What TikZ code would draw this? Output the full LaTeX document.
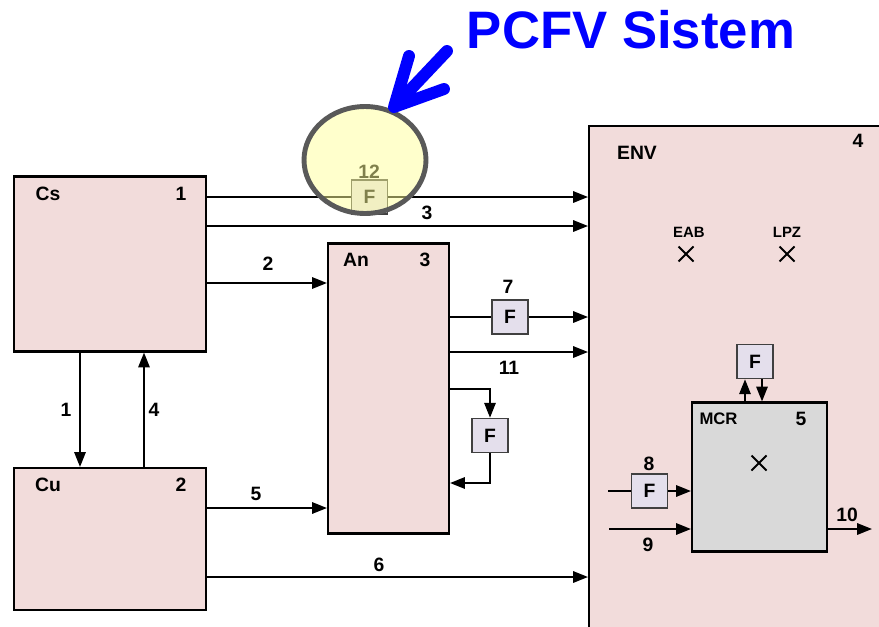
\documentclass[tikz,border=0pt]{standalone}
\usepackage{fontspec}
\setmainfont{Liberation Sans}
\usetikzlibrary{arrows.meta,positioning,shapes.geometric}
\definecolor{boxpink}{HTML}{F2DCDB}
\definecolor{mcrgray}{HTML}{D9D9D9}
\definecolor{flilac}{HTML}{E4DFEC}
\definecolor{lensyellow}{HTML}{FFFF99}
\definecolor{pcfvblue}{HTML}{0000FF}

\begin{document}
\begin{tikzpicture}[x=0.02cm,y=-0.02cm,
            block/.style={draw,line width=1.2pt,fill=boxpink,inner sep=0pt},
            fbox/.style={draw=black!75,line width=0.9pt,fill=flilac,minimum width=0.72cm,
                minimum height=0.68cm,inner sep=0pt,font=\bfseries\fontsize{11}{12}\selectfont},
            arc/.style={line width=1.1pt,-{Triangle[length=8.5pt,width=6.5pt]}},
            wire/.style={line width=1.1pt},
            lbl/.style={font=\bfseries\fontsize{11}{13}\selectfont},
            small/.style={font=\bfseries\fontsize{8.5}{10}\selectfont},
            lens/.style={ellipse,draw=black!65,line width=2.8pt,fill=lensyellow,fill opacity=0.5,
                minimum width=2.44cm,minimum height=2.14cm}
        ]
            \useasboundingbox (0,0) rectangle (879,626);

            % Blocks
            \node[block,minimum width=3.84cm,minimum height=3.5cm] (Cs) at (110,264) {};
            \node[block,minimum width=3.84cm,minimum height=2.84cm] (Cu) at (110,539) {};
            \node[block,minimum width=2.42cm,minimum height=5.8cm] (An) at (388.5,388.5) {};
            \node[block,minimum width=6.4cm,minimum height=10.6cm,anchor=north west] (ENV) at (588,125) {};
            \node[block,fill=mcrgray,minimum width=2.7cm,minimum height=2.98cm] (MCR) at (759.5,477) {};

            % Block labels
            \node[lbl] (CsName) at (48,194) {Cs};
            \node[lbl] (CsNum) at (181,194) {1};
            \node[lbl] (CuName) at (48,485) {Cu};
            \node[lbl] (CuNum) at (181,485) {2};
            \node[lbl] (AnName) at (356,260) {An};
            \node[lbl] (AnNum) at (425,260) {3};
            \node[lbl] (ENVName) at (637,153) {ENV};
            \node[lbl] (ENVNum) at (858,141) {4};
            \node[small] (EAB) at (689,232) {EAB};
            \node[small] (LPZ) at (787,232) {LPZ};
            \node[small,font=\bfseries\fontsize{9.5}{11}\selectfont] (MCRName) at (718.5,419) {MCR};
            \node[lbl] (MCRNum) at (801,419) {5};

            % Crosses
            \foreach \cx/\cy in {686/254,787/254,759/463} {
                \draw[line width=1.1pt] (\cx-7.5,\cy-7.5) -- (\cx+7.5,\cy+7.5) (\cx-7.5,\cy+7.5) -- (\cx+7.5,\cy-7.5);
            }

            % Filters
            \node[fbox] (F12) at (369.5,197) {F};
            \node[fbox] (F7) at (510,317) {F};
            \node[fbox] (Floop) at (490,435.5) {F};
            \node[fbox] (Fmcr) at (755,361.5) {F};
            \node[fbox] (F8) at (649.5,491) {F};

            % Levels of the connectors
            \coordinate (y3) at (0,226);
            \coordinate (y2) at (0,283);
            \coordinate (y5) at (0,508);
            \coordinate (y6) at (0,577);
            \coordinate (y11) at (0,352);
            \coordinate (yloop) at (0,389);
            \coordinate (yret) at (0,483);
            \coordinate (x1) at (80,0);
            \coordinate (x4) at (144,0);
            \coordinate (xup) at (745,0);
            \coordinate (xdn) at (762,0);
            \coordinate (in8) at (608,491);
            \coordinate (in9) at (609,529);
            \coordinate (out10) at (872,529);

            % Connectors
            \draw[wire] (Cs.east |- F12) -- (F12);
            \draw[arc] (F12) -- (F12 -| ENV.west);
            \draw[arc] (Cs.east |- y3) -- (ENV.west |- y3);
            \draw[arc] (Cs.east |- y2) -- (An.west |- y2);
            \draw[arc] (Cs.south -| x1) -- (Cu.north -| x1);
            \draw[arc] (Cu.north -| x4) -- (Cs.south -| x4);
            \draw[arc] (Cu.east |- y5) -- (An.west |- y5);
            \draw[arc] (Cu.east |- y6) -- (ENV.west |- y6);
            \draw[wire] (An.east |- F7) -- (F7);
            \draw[arc] (F7) -- (F7 -| ENV.west);
            \draw[arc] (An.east |- y11) -- (ENV.west |- y11);
            \draw[arc] (An.east |- yloop) -| (Floop.north);
            \draw[arc] (Floop.south) |- (An.east |- yret);
            \draw[arc] (MCR.north -| xup) -- (Fmcr.south -| xup);
            \draw[arc] (Fmcr.south -| xdn) -- (MCR.north -| xdn);
            \draw[wire] (in8) -- (F8);
            \draw[arc] (F8) -- (F8 -| MCR.west);
            \draw[arc] (in9) -- (in9 -| MCR.west);
            \draw[arc] (MCR.east |- out10) -- (out10);

            % Connector labels
            \node[lbl] (L12) at (369,172) {12};
            \node[lbl] (L3) at (427,213) {3};
            \node[lbl] (L2) at (268,264) {2};
            \node[lbl] (L1) at (66,410) {1};
            \node[lbl] (L4) at (154,410) {4};
            \node[lbl] (L5) at (256,494) {5};
            \node[lbl] (L6) at (379,565) {6};
            \node[lbl] (L7) at (508,287) {7};
            \node[lbl] (L11) at (509,368) {11};
            \node[lbl] (L8) at (649,464) {8};
            \node[lbl] (L9) at (648,545) {9};
            \node[lbl] (L10) at (847,515) {10};

            % Highlight of the PCFV part
            \node[lens] (lens) at (365,160) {};
            \node[text=pcfvblue,font=\bfseries\fontsize{30}{36}\selectfont] (title) at (631,30) {PCFV Sistem};
            \coordinate (tip) at (394,107);
            \draw[pcfvblue,line width=6.8pt,line cap=round,line join=round]
                (447,51) -- (tip) (409,56) -- (tip) -- (444,89);
        \end{tikzpicture}
\end{document}
